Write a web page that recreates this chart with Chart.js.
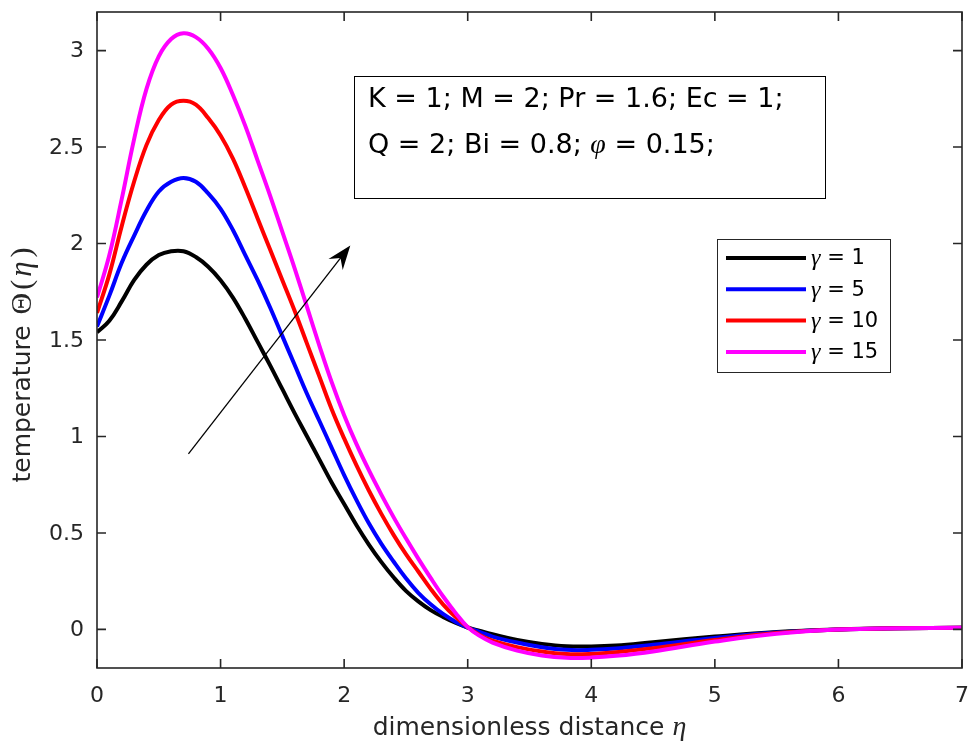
<!DOCTYPE html>
<html>
<head>
<meta charset="utf-8">
<title>temperature profile</title>
<script src="https://cdn.jsdelivr.net/npm/chart.js@4.4.1/dist/chart.umd.min.js"></script>
<style>
  html, body { margin: 0; padding: 0; background: #fff; }
  #wrap { width: 971px; height: 751px; }
</style>
</head>
<body>
<div id="wrap"><canvas id="myChart"></canvas></div>
<script>
// data
var eta = [0, 0.1, 0.2, 0.3, 0.4, 0.5, 0.6, 0.7, 0.8, 0.9, 1.0, 1.1, 1.2, 1.3, 1.4, 1.5, 1.6, 1.7, 1.8, 1.9, 2.0,
  2.1, 2.2, 2.3, 2.4, 2.5, 2.6, 2.7, 2.8, 2.9, 3.0, 3.1, 3.2, 3.4, 3.6, 3.8, 4.0, 4.2, 4.5, 5.0, 5.5, 6.0, 6.5, 7.0];
var theta1 = [1.54, 1.60, 1.70, 1.81, 1.89, 1.94, 1.96, 1.96, 1.93, 1.88, 1.81, 1.72, 1.61, 1.49, 1.37, 1.245, 1.12, 1.00, 0.88, 0.76, 0.65,
  0.54, 0.44, 0.35, 0.27, 0.20, 0.145, 0.10, 0.065, 0.035, 0.01, -0.008, -0.025, -0.055, -0.075, -0.087, -0.088, -0.083, -0.066, -0.037, -0.013, 0.0, 0.006, 0.008];
var theta5 = [1.57, 1.73, 1.90, 2.04, 2.17, 2.27, 2.32, 2.34, 2.32, 2.26, 2.18, 2.07, 1.94, 1.81, 1.67, 1.52, 1.37, 1.22, 1.08, 0.94, 0.80,
  0.67, 0.55, 0.445, 0.352, 0.265, 0.19, 0.13, 0.08, 0.04, 0.01, -0.014, -0.037, -0.068, -0.092, -0.106, -0.106, -0.099, -0.08, -0.045, -0.016, 0.0, 0.006, 0.008];
var theta10 = [1.64, 1.84, 2.09, 2.32, 2.51, 2.64, 2.72, 2.74, 2.72, 2.65, 2.56, 2.44, 2.29, 2.13, 1.97, 1.81, 1.65, 1.48, 1.31, 1.14, 0.99,
  0.85, 0.72, 0.60, 0.49, 0.39, 0.30, 0.21, 0.13, 0.065, 0.012, -0.03, -0.058, -0.092, -0.115, -0.128, -0.127, -0.118, -0.097, -0.055, -0.019, 0.0, 0.006, 0.008];
var theta15 = [1.72, 1.94, 2.23, 2.54, 2.80, 2.97, 3.06, 3.09, 3.07, 3.01, 2.91, 2.77, 2.61, 2.43, 2.25, 2.06, 1.87, 1.67, 1.47, 1.28, 1.11,
  0.96, 0.825, 0.70, 0.582, 0.472, 0.367, 0.267, 0.172, 0.087, 0.012, -0.035, -0.068, -0.11, -0.135, -0.147, -0.146, -0.137, -0.114, -0.063, -0.022, 0.0, 0.006, 0.008];
var gammaVals = ['1', '5', '10', '15'];
var xTicks = [0, 1, 2, 3, 4, 5, 6, 7];
var yTicks = [0, 0.5, 1, 1.5, 2, 2.5, 3];
var paramLine1 = 'K = 1; M = 2; Pr = 1.6; Ec = 1;';
var paramLine2a = 'Q = 2; Bi = 0.8; ';
var paramLine2b = ' = 0.15;';

var colores = ['#000000', '#0000ff', '#ff0000', '#ff00ff'];
var series = [theta1, theta5, theta10, theta15];
// arrow and text box live in data units
var arrowFrom = { x: 0.74, y: 0.91 };
var arrowTo = { x: 2.05, y: 1.99 };
var boxArea = { x0: 2.08, x1: 5.89, y0: 2.87, y1: 2.24 };

var axisGrey = '#262626';
var sans = '"DejaVu Sans", sans-serif';
var serif = '"Liberation Serif", "DejaVu Serif", serif';

// draw a row of text pieces with different fonts
function runs(ctx, parts, x, y, align) {
	let total = 0;
	parts.forEach(p => { ctx.font = p.f; total += ctx.measureText(p.t).width + (p.gap || 0); });
	let cx = align === 'center' ? x - total / 2 : x;
	parts.forEach(p => {
		ctx.font = p.f;
		ctx.fillText(p.t, cx, y);
		cx += ctx.measureText(p.t).width + (p.gap || 0);
	});
}

const matlabLook = {
	id: 'matlabLook',
	afterDatasetsDraw(chart) {
		const ctx = chart.ctx;
		const a = chart.chartArea;
		const sx = chart.scales.x, sy = chart.scales.y;
		ctx.save();

		// arrow
		const x1 = sx.getPixelForValue(arrowFrom.x), y1 = sy.getPixelForValue(arrowFrom.y);
		const x2 = sx.getPixelForValue(arrowTo.x), y2 = sy.getPixelForValue(arrowTo.y);
		const ang = Math.atan2(y2 - y1, x2 - x1);
		ctx.strokeStyle = '#000';
		ctx.lineWidth = 1.3;
		ctx.beginPath();
		ctx.moveTo(x1, y1);
		ctx.lineTo(x2 - 12 * Math.cos(ang), y2 - 12 * Math.sin(ang));
		ctx.stroke();
		ctx.translate(x2, y2);
		ctx.rotate(ang);
		ctx.fillStyle = '#000';
		ctx.beginPath();
		ctx.moveTo(0, 0);
		ctx.lineTo(-24, -9);
		ctx.lineTo(-16, 0);
		ctx.lineTo(-24, 9);
		ctx.closePath();
		ctx.fill();
		ctx.restore();
		ctx.save();

		// parameter box
		const bl = sx.getPixelForValue(boxArea.x0), br = sx.getPixelForValue(boxArea.x1);
		const bt = sy.getPixelForValue(boxArea.y0), bb = sy.getPixelForValue(boxArea.y1);
		ctx.fillStyle = '#fff';
		ctx.fillRect(bl, bt, br - bl, bb - bt);
		ctx.strokeStyle = '#000';
		ctx.lineWidth = 1;
		ctx.strokeRect(Math.round(bl) + 0.5, Math.round(bt) + 0.5, Math.round(br - bl), Math.round(bb - bt));
		ctx.fillStyle = '#000';
		ctx.textBaseline = 'alphabetic';
		ctx.textAlign = 'left';
		runs(ctx, [{ t: paramLine1, f: '27px ' + sans }], bl + 14, bt + 31, 'left');
		runs(ctx, [
			{ t: paramLine2a, f: '27px ' + sans },
			{ t: '\u03c6', f: 'italic 28px ' + serif },
			{ t: paramLine2b, f: '27px ' + sans }
		], bl + 14, bt + 77, 'left');

		// legend
		const lx = 717, ly = 239, lw = 173, lh = 133;
		ctx.fillStyle = '#fff';
		ctx.fillRect(lx, ly, lw, lh);
		ctx.strokeStyle = axisGrey;
		ctx.lineWidth = 1;
		ctx.strokeRect(lx + 0.5, ly + 0.5, lw, lh);
		ctx.textBaseline = 'middle';
		for (let i = 0; i < gammaVals.length; i++) {
			const yy = ly + 19 + i * 31.3;
			ctx.strokeStyle = colores[i];
			ctx.lineWidth = 4;
			ctx.beginPath();
			ctx.moveTo(lx + 9, yy);
			ctx.lineTo(lx + 89, yy);
			ctx.stroke();
			ctx.fillStyle = '#000';
			runs(ctx, [
				{ t: '\u03b3', f: 'italic 24px ' + serif },
				{ t: ' = ' + gammaVals[i], f: '21px ' + sans }
			], lx + 94, yy + 1, 'left');
		}

		// axes box and inward ticks, all four sides
		ctx.strokeStyle = axisGrey;
		ctx.lineWidth = 1.6;
		ctx.strokeRect(a.left, a.top, a.right - a.left, a.bottom - a.top);
		ctx.beginPath();
		sx.ticks.forEach(t => {
			const px = sx.getPixelForValue(t.value);
			ctx.moveTo(px, a.bottom); ctx.lineTo(px, a.bottom - 9);
			ctx.moveTo(px, a.top); ctx.lineTo(px, a.top + 9);
		});
		sy.ticks.forEach(t => {
			const py = sy.getPixelForValue(t.value);
			ctx.moveTo(a.left, py); ctx.lineTo(a.left + 9, py);
			ctx.moveTo(a.right, py); ctx.lineTo(a.right - 9, py);
		});
		ctx.stroke();

		// tick labels
		ctx.fillStyle = axisGrey;
		ctx.font = '22px ' + sans;
		ctx.textBaseline = 'middle';
		ctx.textAlign = 'center';
		sx.ticks.forEach(t => {
			ctx.fillText(String(t.value), sx.getPixelForValue(t.value), a.bottom + 28);
		});
		ctx.textAlign = 'right';
		sy.ticks.forEach(t => {
			ctx.fillText(String(t.value), a.left - 13, sy.getPixelForValue(t.value) + 1);
		});

		// axis titles
		ctx.textAlign = 'left';
		runs(ctx, [
			{ t: 'dimensionless distance ', f: '25px ' + sans },
			{ t: '\u03b7', f: 'italic 28px ' + serif }
		], (a.left + a.right) / 2, 728, 'center');

		ctx.translate(23, 365);
		ctx.rotate(-Math.PI / 2);
		runs(ctx, [
			{ t: 'temperature ', f: '25px ' + sans, gap: 3 },
			{ t: '\u0398', f: '30px ' + serif, gap: 3 },
			{ t: '(', f: '30px ' + serif, gap: 3 },
			{ t: '\u03b7', f: 'italic 31px ' + serif, gap: 4 },
			{ t: ')', f: '30px ' + serif }
		], 0, 0, 'center');
		ctx.restore();
	}
};

const ctx = document.getElementById('myChart');
const myChart = new Chart(ctx, {
	type: 'line',
	data: {
		datasets: series.map((s, i) => ({
			label: '\u03b3 = ' + gammaVals[i],
			data: eta.map((e, k) => ({ x: e, y: s[k] })),
			borderColor: colores[i],
			backgroundColor: colores[i],
			borderWidth: 4,
			pointRadius: 0,
			tension: 0.4,
			order: series.length - i
		}))
	},
	options: {
		responsive: true,
		maintainAspectRatio: false,
		animation: false,
		layout: { padding: { top: 12, right: 9, left: 0, bottom: 0 } },
		plugins: {
			legend: { display: false },
			tooltip: { enabled: false }
		},
		scales: {
			x: {
				type: 'linear',
				min: 0,
				max: 7,
				afterBuildTicks: s => { s.ticks = xTicks.map(v => ({ value: v })); },
				afterFit: s => { s.height = 83; },
				grid: { display: false, drawTicks: false },
				border: { display: false },
				ticks: { display: false }
			},
			y: {
				type: 'linear',
				min: -0.2,
				max: 3.2,
				afterBuildTicks: s => { s.ticks = yTicks.map(v => ({ value: v })); },
				afterFit: s => { s.width = 97; },
				grid: { display: false, drawTicks: false },
				border: { display: false },
				ticks: { display: false }
			}
		}
	},
	plugins: [matlabLook]
});
</script>
</body>
</html>
